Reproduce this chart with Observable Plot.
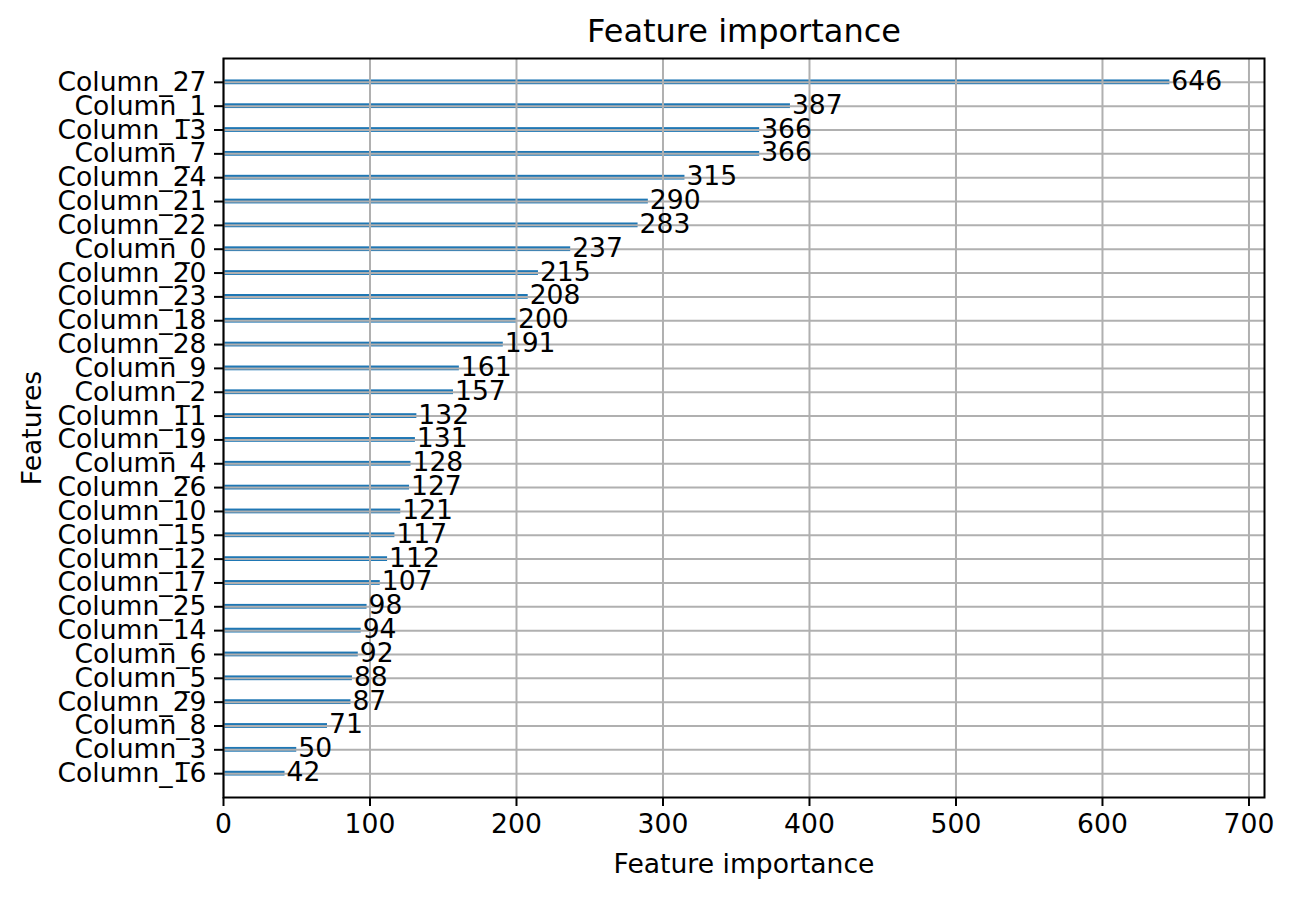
<!DOCTYPE html>
<html>
<head>
<meta charset="utf-8">
<script src="https://cdn.jsdelivr.net/npm/d3@7"></script>
<script src="https://cdn.jsdelivr.net/npm/@observablehq/plot@0.6"></script>
<style>
  html, body { margin: 0; padding: 0; background: #fff; }
</style>
</head>
<body>
<div id="chart"></div>
<script>
const features = ["Column_27","Column_1","Column_13","Column_7","Column_24","Column_21","Column_22","Column_0","Column_20","Column_23","Column_18","Column_28","Column_9","Column_2","Column_11","Column_19","Column_4","Column_26","Column_10","Column_15","Column_12","Column_17","Column_25","Column_14","Column_6","Column_5","Column_29","Column_8","Column_3","Column_16"];
const importance = [646,387,366,366,315,290,283,237,215,208,200,191,161,157,132,131,128,127,121,117,112,107,98,94,92,88,87,71,50,42];
const xTicks = [0,100,200,300,400,500,600,700];

const n = features.length;
const data = features.map((f, i) => ({feature: f, value: importance[i], pos: n - 1 - i}));
const positions = data.map(d => d.pos);
const nameAt = new Map(data.map(d => [d.pos, d.feature]));
const xMax = d3.max(importance) * 1.1;
const fs = 26.6;

const chart = Plot.plot({
  width: 1294,
  height: 898,
  marginLeft: 223,
  marginRight: 30,
  marginTop: 58,
  marginBottom: 101,
  style: {fontFamily: "DejaVu Sans", fontSize: fs + "px", color: "#000", background: "#fff"},
  x: {domain: [0, xMax]},
  y: {domain: [-1, n]},
  marks: [
    Plot.rect(data, {x1: 0, x2: "value", y1: d => d.pos - 0.1, y2: d => d.pos + 0.1, fill: "#1f77b4"}),
    Plot.gridX(xTicks, {stroke: "#b0b0b0", strokeOpacity: 1, strokeWidth: 2}),
    Plot.gridY(positions, {stroke: "#b0b0b0", strokeOpacity: 1, strokeWidth: 2}),
    Plot.text(data, {x: d => d.value + 1, y: "pos", text: d => String(d.value), textAnchor: "start", lineAnchor: "middle", fill: "#000", fontSize: fs, dy: -1}),
    Plot.frame({stroke: "#000", strokeWidth: 2}),
    Plot.axisX(xTicks, {tickSize: 9, tickPadding: 8, strokeWidth: 2, fontSize: fs, label: null, tickFormat: d => String(d)}),
    Plot.axisY(positions, {tickSize: 9, tickPadding: 8, strokeWidth: 2, fontSize: fs, label: null, tickFormat: p => nameAt.get(p)}),
    Plot.text(["Feature importance"], {frameAnchor: "top", dy: -27, lineAnchor: "middle", textAnchor: "middle", fontSize: 32, fill: "#000"}),
    Plot.text(["Feature importance"], {frameAnchor: "bottom", dy: 67, lineAnchor: "middle", textAnchor: "middle", fontSize: fs, fill: "#000"}),
    Plot.text(["Features"], {frameAnchor: "left", dx: -191, rotate: -90, lineAnchor: "middle", textAnchor: "middle", fontSize: fs, fill: "#000"})
  ]
});
document.getElementById("chart").appendChild(chart);
</script>
</body>
</html>
